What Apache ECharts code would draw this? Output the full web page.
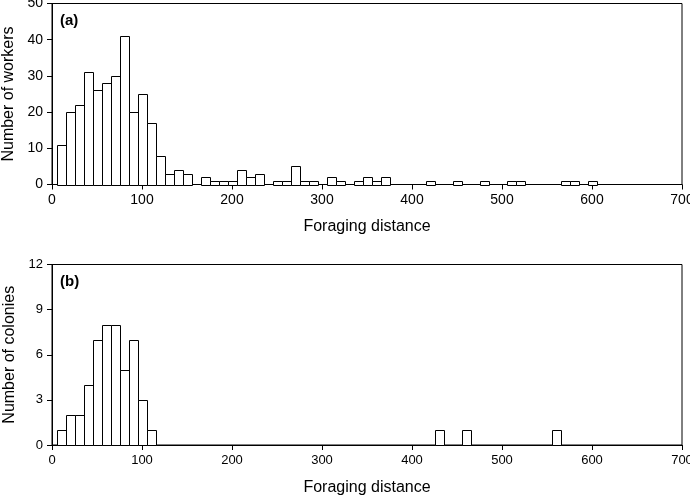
<!DOCTYPE html>
<html>
<head>
<meta charset="utf-8">
<script src="https://cdn.jsdelivr.net/npm/echarts@6/dist/echarts.min.js"></script>
<style>html,body{margin:0;padding:0;background:#fff}#c{width:690px;height:498px}</style>
</head>
<body>
<div id="c"></div>
<script>
// Bin centres (foraging distance, bin width 10) and counts
const workerBins   = [10,20,30,40,50,60,70,80,90,100,110,120,130,140,150,170,180,190,200,210,220,230,250,260,270,280,290,310,320,340,350,360,370,420,450,480,510,520,570,580,600];
const workerCounts = [11,20,22,31,26,28,30,41,20,25,17,8,3,4,3,2,1,1,1,4,2,3,1,1,5,1,1,2,1,1,2,1,2,1,1,1,1,1,1,1,1];
const colonyBins   = [10,20,30,40,50,60,70,80,90,100,110,430,460,560];
const colonyCounts = [1,2,2,4,7,8,8,5,7,3,1,1,1,1];
const binWidth = 10;
const xTicks = [0,100,200,300,400,500,600,700];
const panelLabels = ['(a)','(b)'];
const yNames = ['Number of workers','Number of colonies'];
const xName = 'Foraging distance';

const FONT = 'Liberation Sans, Arial, sans-serif';

function toData(bins, counts){ return bins.map((b,i)=>[b, counts[i]]); }

function renderBar(params, api){
  const c = api.value(0), v = api.value(1);
  const p0 = api.coord([c - binWidth/2, v]);
  const p1 = api.coord([c + binWidth/2, 0]);
  const x0 = Math.round(p0[0]) + 0.5, x1 = Math.round(p1[0]) + 0.5;
  const y0 = Math.round(p0[1]) + 0.5, y1 = Math.round(p1[1]) + 0.5;
  return {
    type: 'rect',
    shape: {x: x0, y: y0, width: x1 - x0, height: y1 - y0},
    style: {fill: '#fff', stroke: '#000', lineWidth: 1}
  };
}

function xAxis(gridIndex, tickSize){
  return {
    type: 'value', gridIndex, min: 0, max: 700, interval: 100,
    name: xName, nameLocation: 'middle', nameGap: gridIndex === 0 ? 34 : 35,
    nameTextStyle: {fontFamily: FONT, fontSize: 16, color: '#000'},
    axisLine: {show: true, lineStyle: {color: '#000', width: 1}},
    axisTick: {show: true, length: 5, lineStyle: {color: '#000'}},
    axisLabel: {fontFamily: FONT, fontSize: tickSize, color: '#000', margin: 9,
      formatter: v => xTicks.includes(v) ? String(v) : ''},
    splitLine: {show: false}
  };
}
function yAxis(gridIndex, max, interval, name){
  return {
    type: 'value', gridIndex, min: 0, max, interval,
    name, nameLocation: 'middle', nameGap: 34,
    nameTextStyle: {fontFamily: FONT, fontSize: 16, color: '#000'},
    axisLine: {show: true, lineStyle: {color: '#000', width: 1}},
    axisTick: {show: true, length: 5, lineStyle: {color: '#000'}},
    axisLabel: {fontFamily: FONT, fontSize: gridIndex === 0 ? 14 : 13, color: '#000', margin: 9},
    splitLine: {show: false}
  };
}

const chart = echarts.init(document.getElementById('c'), null, {renderer: 'canvas'});
chart.setOption({
  animation: false,
  backgroundColor: '#fff',
  title: [
    {text: panelLabels[0], left: 55, top: 8, textStyle: {fontFamily: FONT, fontSize: 15, fontWeight: 'bold', color: '#000'}},
    {text: panelLabels[1], left: 55, top: 269, textStyle: {fontFamily: FONT, fontSize: 15, fontWeight: 'bold', color: '#000'}}
  ],
  grid: [
    {left: 52, width: 630, top: 3.5, height: 181, outerBoundsMode: 'none', containLabel: false, show: true, borderColor: '#000', borderWidth: 1, backgroundColor: 'transparent'},
    {left: 52, width: 630, top: 264.5, height: 180.5, outerBoundsMode: 'none', containLabel: false, show: true, borderColor: '#000', borderWidth: 1, backgroundColor: 'transparent'}
  ],
  xAxis: [xAxis(0, 14), xAxis(1, 13)],
  yAxis: [yAxis(0, 50, 10, yNames[0]), yAxis(1, 12, 3, yNames[1])],
  series: [
    {type: 'custom', xAxisIndex: 0, yAxisIndex: 0, renderItem: renderBar, data: toData(workerBins, workerCounts), encode: {x: 0, y: 1}, z: 1},
    {type: 'custom', xAxisIndex: 1, yAxisIndex: 1, renderItem: renderBar, data: toData(colonyBins, colonyCounts), encode: {x: 0, y: 1}, z: 1}
  ]
});
</script>
</body>
</html>
